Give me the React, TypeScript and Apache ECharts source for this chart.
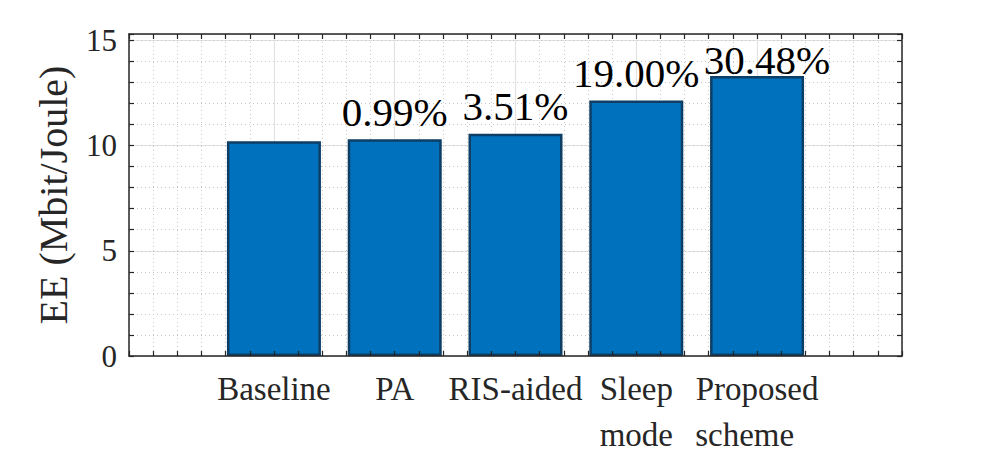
import React, { useEffect, useRef } from "react";
import * as echarts from "echarts";

const categories = ["Baseline", "PA", "RIS-aided", "Sleep\nmode", "Proposed\nscheme\u00a0\u00a0\u00a0"];
const eeValues = [10.2, 10.3, 10.56, 12.14, 13.31];
const gainLabels = ["", "0.99%", "3.51%", "19.00%", "30.48%"];
const yTickLabels = [0, 5, 10, 15];

const X_MIN = -0.2;
const X_MAX = 6.2;
const Y_MAX = 15.3;
const AXIS_COLOR = "#262626";
const SERIF = "Liberation Serif";

export default function App() {
  const ref = useRef<HTMLDivElement>(null);
  useEffect(() => {
    if (!ref.current) return;
    const chart = echarts.init(ref.current, undefined, { renderer: "svg" });
    const gridRect = { left: 129, top: 34, right: 95, bottom: 97, outerBoundsMode: "none", containLabel: false };
    const labelTweaks = [
      { distance: 7, offset: [0, 0] },
      { distance: 7, offset: [0, 0] },
      { distance: 7, offset: [0, 0] },
      { distance: 7, offset: [0, 0] },
      { distance: -5, offset: [10, 0] },
    ];
    const tickAxisCommon = {
      axisLine: { show: true, onZero: false, lineStyle: { color: AXIS_COLOR, width: 1.5 } },
      axisTick: { show: true, inside: true, length: 5, lineStyle: { color: AXIS_COLOR, width: 1.2 } },
      axisLabel: { show: false },
      splitLine: { show: false },
      z: 10,
    };
    const option: any = {
      animation: false,
      textStyle: { fontFamily: SERIF },
      grid: [{ ...gridRect }, { ...gridRect }],
      xAxis: [
        {
          type: "value",
          gridIndex: 0,
          min: X_MIN,
          max: X_MAX,
          interval: 0.2,
          axisLine: { show: false, onZero: false },
          axisTick: { show: false },
          splitLine: { show: true, lineStyle: { color: "#c8c8c8", type: [1, 3], width: 1 } },
          axisLabel: {
            show: true,
            fontFamily: SERIF,
            fontSize: 33,
            color: AXIS_COLOR,
            lineHeight: 46,
            margin: 10,
            align: "center",
            verticalAlign: "top",
            formatter: (v: number) => {
              const r = Math.round(v);
              if (Math.abs(v - r) < 1e-6 && r >= 1 && r <= categories.length) return categories[r - 1];
              return "";
            },
          },
        },
        { type: "value", gridIndex: 1, position: "bottom", min: X_MIN, max: X_MAX, interval: 0.2, ...tickAxisCommon },
        { type: "value", gridIndex: 1, position: "top", min: X_MIN, max: X_MAX, interval: 0.2, ...tickAxisCommon },
      ],
      yAxis: [
        {
          type: "value",
          gridIndex: 0,
          min: 0,
          max: Y_MAX,
          interval: 5,
          axisLine: { show: false, onZero: false },
          axisTick: { show: false },
          splitLine: { show: true, lineStyle: { color: "#e3e3e3", width: 1.2 } },
          axisLabel: {
            show: true,
            fontFamily: SERIF,
            fontSize: 31,
            color: AXIS_COLOR,
            margin: 12,
            formatter: (v: number) => (yTickLabels.some((t) => Math.abs(t - v) < 1e-6) ? String(v) : ""),
          },
          name: "EE (Mbit/Joule)",
          nameLocation: "middle",
          nameGap: 56,
          nameRotate: 90,
          nameTextStyle: { fontFamily: SERIF, fontSize: 40, color: AXIS_COLOR },
        },
        {
          type: "value",
          gridIndex: 0,
          min: 0,
          max: Y_MAX,
          interval: 1,
          axisLine: { show: false, onZero: false },
          axisTick: { show: false },
          axisLabel: { show: false },
          splitLine: { show: true, lineStyle: { color: "#c8c8c8", type: [1, 3], width: 1 } },
        },
        { type: "value", gridIndex: 1, position: "left", min: 0, max: Y_MAX, interval: 1, ...tickAxisCommon },
        { type: "value", gridIndex: 1, position: "right", min: 0, max: Y_MAX, interval: 1, ...tickAxisCommon },
      ],
      series: [
        {
          type: "line",
          xAxisIndex: 0,
          yAxisIndex: 0,
          data: [],
          z: 1,
          silent: true,
          markLine: {
            silent: true,
            z: 1,
            symbol: "none",
            label: { show: false },
            lineStyle: { color: "#e3e3e3", type: "solid", width: 1.2 },
            data: categories.map((_, i) => ({ xAxis: i + 1 })),
          },
        },
        {
          type: "bar",
          xAxisIndex: 0,
          yAxisIndex: 0,
          z: 3,
          barWidth: 94,
          itemStyle: { color: "#0072BD", borderColor: "#0d3e66", borderWidth: 2.5 },
          label: {
            show: true,
            position: "top",
            fontFamily: SERIF,
            fontSize: 41,
            color: "#000",
            formatter: (p: any) => gainLabels[p.dataIndex],
          },
          data: eeValues.map((v, i) => ({
            value: [i + 1, v],
            label: { distance: labelTweaks[i].distance, offset: labelTweaks[i].offset },
          })),
        },
      ],
    };
    chart.setOption(option);
    return () => chart.dispose();
  }, []);
  return <div ref={ref} style={{ width: 997, height: 453, position: "absolute", left: 0, top: 0, background: "#fff" }} />;
}
